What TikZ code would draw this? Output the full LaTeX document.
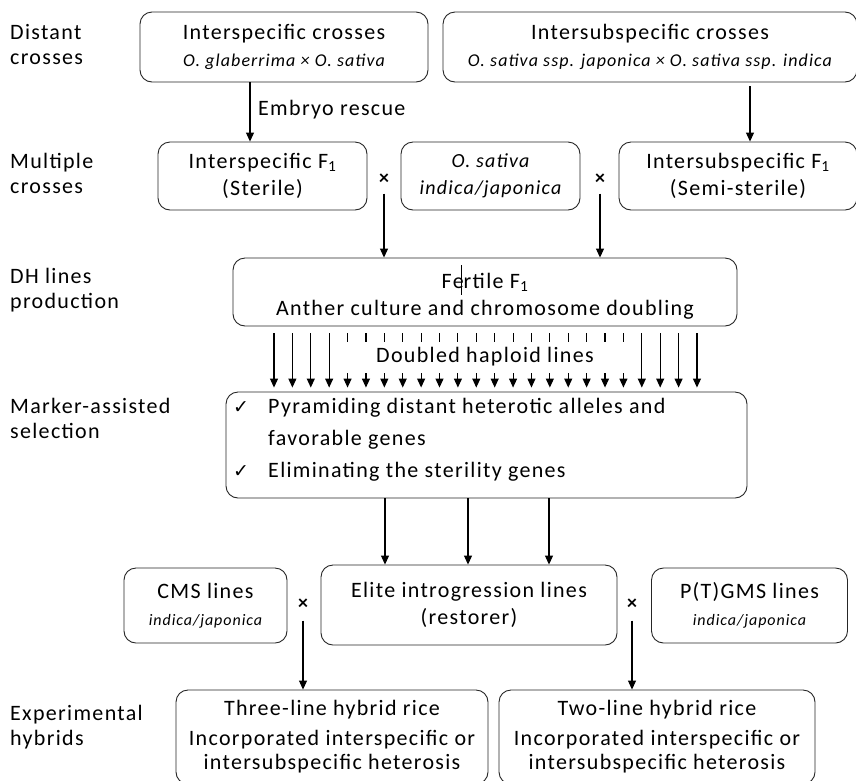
\documentclass[tikz,border=0pt]{standalone}
\usepackage{fontspec}
\setmainfont{Carlito}[LetterSpace=6]
\newfontfamily\ckfont{DejaVu Sans}
\usetikzlibrary{arrows.meta}
\newcommand{\tick}{{\ckfont\fontsize{19}{19}\selectfont ✓}}
\tikzset{
  every node/.style={font=\fontsize{22}{27}\selectfont, inner sep=0pt},
  box/.style={draw=black!85, line width=0.9pt, rounded corners=12pt, align=center},
  sublab/.style={anchor=west, align=left, font=\fontsize{22}{25}\selectfont},
  crossmark/.style={font=\fontsize{20}{20}\selectfont\bfseries, inner sep=3pt},
  arr/.style={-{Triangle[width=8pt,length=9pt]}, line width=1.1pt}
}
\newcommand{\sub}[1]{{\fontsize{18}{27}\selectfont\itshape #1}}
\newcommand{\subm}[1]{{\fontsize{20}{27}\selectfont\itshape #1}}
\newcommand{\subs}[1]{{\fontsize{16}{27}\selectfont\itshape #1}}
\begin{document}
\begin{tikzpicture}[x=1pt,y=-1pt]
\useasboundingbox[fill=white] (0,0) rectangle (856,780);

% stage labels
\node[sublab] (l1) at (10,45) {Distant\\crosses};
\node[sublab] (l2) at (10,173) {Multiple\\crosses};
\node[sublab] (l3) at (10,290) {DH lines\\production};
\node[sublab] (l4) at (10,418) {Marker-assisted\\selection};
\node[sublab] (l5) at (10,727) {Experimental\\hybrids};

% row 1
\node[box, minimum width=288, minimum height=70] (A) at (284,47)
  {Interspecific crosses\\\sub{O. glaberrima × O. sativa}};
\node[box, minimum width=414, minimum height=70] (B) at (650,47)
  {Intersubspecific crosses\\\sub{O. sativa ssp. japonica × O. sativa ssp. indica}};

% row 2
\node[box, minimum width=209, minimum height=68] (C) at (262.5,176)
  {Interspecific F\textsubscript{1}\\(Sterile)};
\node[box, minimum width=179, minimum height=68] (D) at (490.5,176)
  {\subm{O. sativa}\\\subm{indica/japonica}};
\node[box, minimum width=238, minimum height=68] (E) at (738,176)
  {Intersubspecific F\textsubscript{1}\\(Semi-sterile)};
\node[crossmark] (x1) at (384,179) {×};
\node[crossmark] (x2) at (600,179) {×};

% row 3
\node[box, minimum width=504, minimum height=68] (F) at (485,292)
  {Fe\rlap{\hspace{-3pt}\rule[-6pt]{0.8pt}{30pt}}rtile F\textsubscript{1}\\Anther culture and chromosome doubling};

% row 4
\node[box, minimum width=521, minimum height=106] (G) at (486.5,445) {};
\node[anchor=west, align=left, font=\fontsize{22}{32}\selectfont] (Gt) at (233,440)
  {\makebox[35pt][l]{\tick}Pyramiding distant heterotic alleles and\\
   \makebox[35pt][l]{}favorable genes\\
   \makebox[35pt][l]{\tick}Eliminating the sterility genes};

% row 5
\node[box, minimum width=163, minimum height=75] (H) at (205.5,605.5)
  {CMS lines\\\subs{indica/japonica}};
\node[box, minimum width=296, minimum height=80] (I) at (469,605)
  {Elite introgression lines\\(restorer)};
\node[box, minimum width=196, minimum height=75] (J) at (749.5,605.5)
  {P(T)GMS lines\\\subs{indica/japonica}};
\node[crossmark] (x3) at (303,604) {×};
\node[crossmark] (x4) at (632,604) {×};

% row 6
\node[box, minimum width=312, minimum height=94] (K) at (332,737)
  {Three-line hybrid rice\\[3pt]Incorporated interspecific or\\[-3pt]intersubspecific heterosis};
\node[box, minimum width=316, minimum height=94] (L) at (657,737)
  {Two-line hybrid rice\\[3pt]Incorporated interspecific or\\[-3pt]intersubspecific heterosis};

% connectors
\draw[arr] ([xshift=-34pt]A.south) -- ([xshift=-34pt]A.south |- C.north);
\node[anchor=west] (er) at (258,110) {Embryo rescue};
\draw[arr] ([xshift=100pt,yshift=-4pt]B.south) -- ([xshift=100pt]B.south |- E.north);
\draw[arr, shorten <=6pt] (x1) -- (x1 |- F.north);
\draw[arr, shorten <=6pt] (x2) -- (x2 |- F.north);

\foreach \i in {0,...,23}{
  \pgfmathsetmacro{\xx}{274+18.39*\i}
  \draw[arr, shorten >=4pt] ([yshift=-7pt]F.south -| \xx,0) -- (G.north -| \xx,0);
}
\node[fill=white, minimum width=282, minimum height=31] (dh) at (485,357) {Doubled haploid lines};

\foreach \xx in {385,468,549}{
  \draw[arr] (G.south -| \xx,0) -- (I.north -| \xx,0);
}
\draw[arr, shorten <=8pt] (x3) -- (x3 |- K.north);
\draw[arr, shorten <=8pt] (x4) -- (x4 |- L.north);
\end{tikzpicture}
\end{document}
